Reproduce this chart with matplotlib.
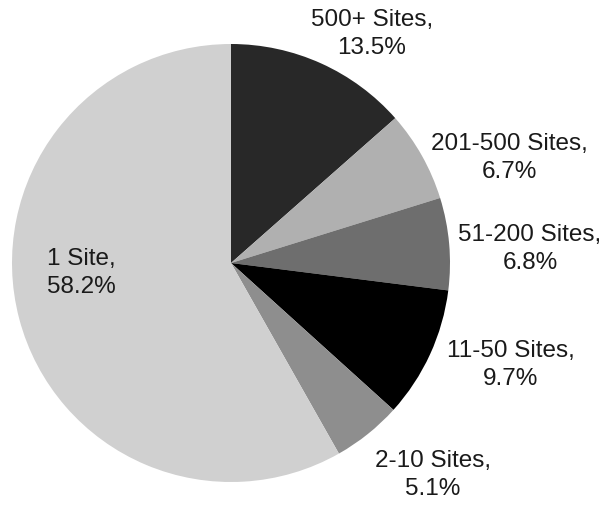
import matplotlib
matplotlib.use("Agg")
import matplotlib.pyplot as plt

categories = ["500+ Sites", "201-500 Sites", "51-200 Sites", "11-50 Sites", "2-10 Sites", "1 Site"]
shares = [13.5, 6.7, 6.8, 9.7, 5.1, 58.2]
colors = ["#282828", "#b0b0b0", "#6e6e6e", "#000000", "#8e8e8e", "#d0d0d0"]

# label centres in pixel coords (x from left, y from top)
label_pos = [(372, 34), (509, 158), (530, 249), (511, 365), (433, 475), (81, 273)]

W, H = 607, 508
plt.rcParams['font.family'] = ['Liberation Sans', 'DejaVu Sans']

fig = plt.figure(figsize=(W / 100, H / 100), dpi=100)
ax = fig.add_axes([0, 0, 1, 1])

cx, cy, r = 231, 263, 219
ax.pie(shares, colors=colors, startangle=90, counterclock=False,
       center=(cx, H - cy), radius=r, wedgeprops={'linewidth': 0})

for name, val, (x, y) in zip(categories, shares, label_pos):
    ax.text(x, H - y, f"{name},\n{val}%", ha='center', va='center',
            fontsize=17.5, color='#1a1a1a', linespacing=1.32)

ax.set_xlim(0, W)
ax.set_ylim(0, H)
ax.set_aspect('equal')
ax.axis('off')

fig.savefig("out.png", dpi=100)
